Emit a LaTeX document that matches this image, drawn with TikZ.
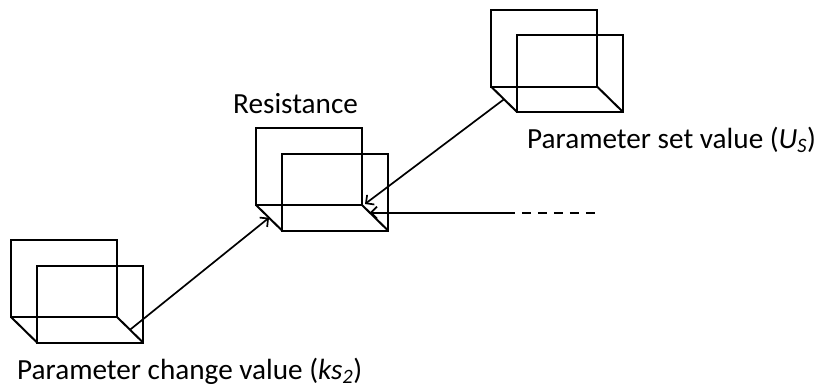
\documentclass[tikz,border=0pt]{standalone}
\usepackage{fontspec}
\setmainfont{Carlito}
\usetikzlibrary{calc,positioning,arrows.meta}

\begin{document}
\begin{tikzpicture}
      [x=1pt,y=-1pt,
        >={Straight Barb[length=6pt,width=12pt]},
        panel/.style={
          draw=black, line width=2pt,
          minimum width=106pt,
          minimum height=77pt,
          inner sep=0pt, outer sep=0pt},
        edge/.style={draw, line width=2pt},
        link/.style={draw, line width=1.7pt, ->},
        caption/.style={anchor=base west, inner sep=0pt,
          font=\fontsize{29.2}{34}\selectfont}]
      \useasboundingbox (0,0) rectangle (818,389);
      % three boxes
      \node[panel] (chgback) at (64,278.5) {};
      \node[panel] (chgfront) at ([shift={(26,25.5)}]chgback.center) {};
      \node[panel] (resback) at (309,166.5) {};
      \node[panel] (resfront) at ([shift={(26,25.5)}]resback.center) {};
      \node[panel] (setback) at (544,48) {};
      \node[panel] (setfront) at ([shift={(26,25.5)}]setback.center) {};
      \foreach \b in {chg,res,set} {
        \draw[edge] (\b back.south west) -- (\b front.south west);
        \draw[edge] (\b back.south east) -- (\b front.south east);
      }
      % labels
      \node[caption] (reslabel) at (233,113) {Resistance};
      \node[caption] (setlabel) at (527,148)
        {Parameter set value (\textit{U}\textsubscript{\textit{S}})};
      \node[caption] (chglabel) at (17,379)
        {Parameter change value (\textit{ks}\textsubscript{\textit{2}})};
      % connectors
      \coordinate (chgout) at ($(chgback.south east)!.5!(chgfront.south east)$);
      \coordinate (resinl) at ($(resback.south west)!.5!(resfront.south west)$);
      \coordinate (setout) at ($(setback.south west)!.5!(setfront.south west)$);
      \coordinate (resinr) at ($(resback.south east)!.3!(resfront.south east)$);
      \coordinate (feed) at ($(resinr)+(136,0)$);
      \coordinate (feedend) at ($(feed)+(92,0)$);
      \draw[link] (chgout) -- (resinl);
      \draw[link] (setout) -- ([shift={(3,-1)}]resback.south east);
      \draw[link] (feed) -- (resinr);
      \draw[line width=1.7pt, dash pattern=on 9pt off 7pt] (feed) -- (feedend);
    \end{tikzpicture}
\end{document}
